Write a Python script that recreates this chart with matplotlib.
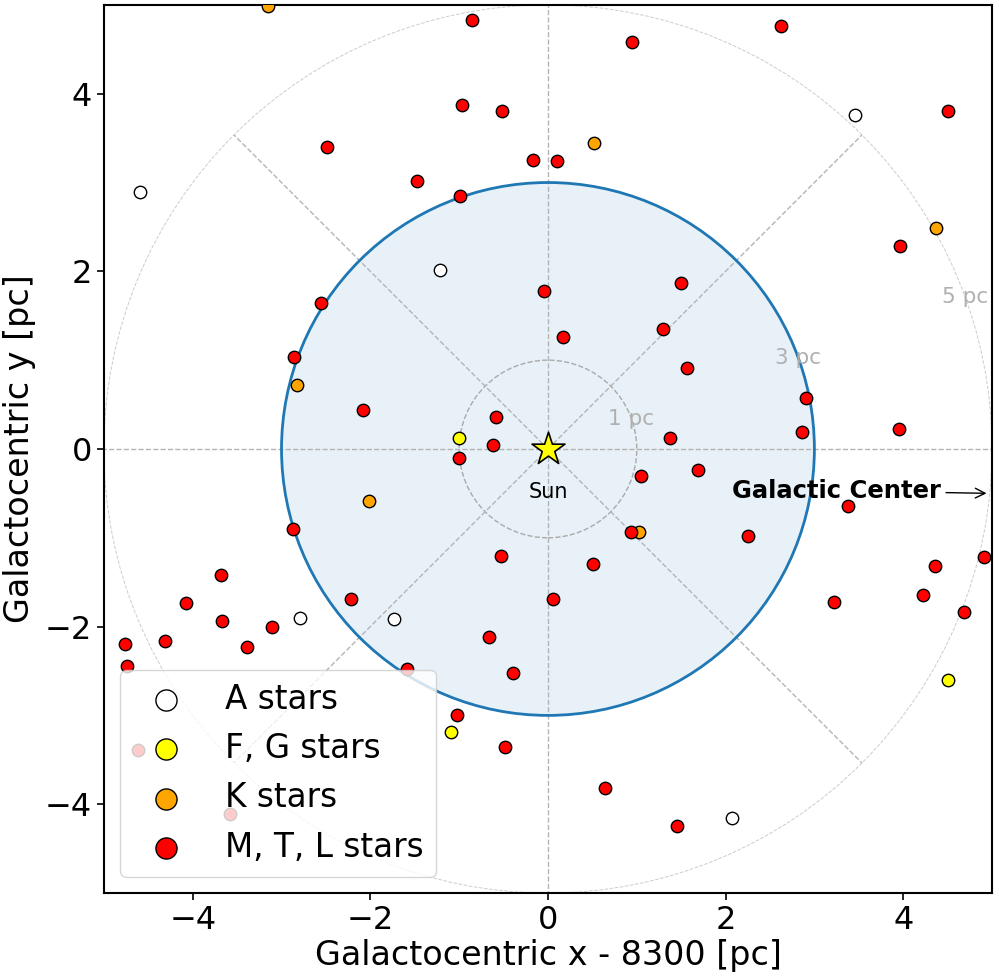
import numpy as np
import matplotlib
matplotlib.use("Agg")
import matplotlib.pyplot as plt
from matplotlib.patches import Circle

# Star positions relative to the Sun (pc), grouped by spectral class
a_x = [-4.59, -1.21, 3.46, -2.79, -1.73, 2.07]
a_y = [2.89, 2.01, 3.76, -1.90, -1.91, -4.15]

fg_x = [-1.00, -1.09, 4.50]
fg_y = [0.12, -3.19, -2.60]

k_x = [-3.15, 0.52, 4.37, -2.83, -2.02, 1.02]
k_y = [4.99, 3.45, 2.49, 0.72, -0.59, -0.94]

mtl_x = [-0.86, -0.97, -0.52, -2.49, -0.17, -1.47, -0.99, -0.05, -2.56, -2.86,
         -2.08, -0.59, -0.62, 0.95, 2.62, 4.51, 0.10, 3.96, 1.50, 0.17,
         1.30, 1.57, 2.91, 2.86, 3.95, 1.37, -1.00, -2.87, -0.53, -3.68,
         -4.07, -2.22, -0.66, -0.39, 0.06, -3.67, -3.11, -4.31, -3.39, -4.76,
         -4.74, -1.59, -1.02, -0.48, -4.62, -3.58, 1.05, 1.69, 3.38, 0.94,
         2.25, 0.51, 4.36, 4.91, 4.22, 3.22, 4.68, 0.64, 1.45]
mtl_y = [4.83, 3.87, 3.80, 3.40, 3.25, 3.02, 2.85, 1.78, 1.64, 1.04,
         0.44, 0.36, 0.05, 4.58, 4.76, 3.80, 3.24, 2.28, 1.87, 1.26,
         1.35, 0.91, 0.57, 0.19, 0.23, 0.12, -0.10, -0.90, -1.20, -1.42,
         -1.74, -1.69, -2.12, -2.52, -1.69, -1.94, -2.00, -2.16, -2.23, -2.20,
         -2.44, -2.48, -2.99, -3.36, -3.39, -4.11, -0.30, -0.24, -0.64, -0.94,
         -0.98, -1.30, -1.32, -1.22, -1.65, -1.72, -1.84, -3.82, -4.25]

ring_radii = [1, 3, 5]
ring_labels = ["1 pc", "3 pc", "5 pc"]

fig = plt.figure(figsize=(9.99, 9.76), dpi=100)
ax = fig.add_axes([0.104, 0.085, 0.889, 0.910])

# Shaded 3 pc disc
ax.add_patch(Circle((0, 0), 3, facecolor="C0", alpha=0.1, edgecolor="none", zorder=1))
ax.add_patch(Circle((0, 0), 3, facecolor="none", edgecolor="C0", lw=2, zorder=2))

# Distance rings
ax.add_patch(Circle((0, 0), 1, facecolor="none", edgecolor="#aaaaaa", lw=1, ls="--", zorder=1.5))
ax.add_patch(Circle((0, 0), 5, facecolor="none", edgecolor="#cccccc", lw=0.7, ls="--", zorder=1.5))

# Radial spokes every 45 degrees
for ang in np.deg2rad(np.arange(0, 360, 45)):
    ax.plot([0, 5 * np.cos(ang)], [0, 5 * np.sin(ang)], ls="--", color="#b4b4b4",
            lw=1, zorder=1.5)

# Ring labels along a 20 degree line
lab_ang = np.deg2rad(20)
for r, t in zip(ring_radii, ring_labels):
    ax.text(r * np.cos(lab_ang), r * np.sin(lab_ang), t, color="#b0b0b0",
            fontsize=15.5, ha="center", va="center", zorder=3)

kw = dict(s=80, edgecolors="black", linewidths=1, zorder=4)
ax.scatter(a_x, a_y, c="white", label="A stars", **kw)
ax.scatter(fg_x, fg_y, c="yellow", label="F, G stars", **kw)
ax.scatter(k_x, k_y, c="orange", label="K stars", **kw)
ax.scatter(mtl_x, mtl_y, c="red", label="M, T, L stars", **kw)

# Sun
ax.scatter([0], [0], marker="*", s=620, c="yellow", edgecolors="black",
           linewidths=1.2, zorder=5)
ax.text(0, -0.48, "Sun", fontsize=15, ha="center", va="center", zorder=5)

ax.annotate("Galactic Center", xy=(4.97, -0.5), xytext=(4.42, -0.47),
            fontsize=17.5, fontweight="bold", ha="right", va="center",
            arrowprops=dict(arrowstyle="->", color="black", lw=1), zorder=5)

ax.set_xlim(-5, 5)
ax.set_ylim(-5, 5)
ax.set_aspect("equal")
ax.set_xlabel("Galactocentric x - 8300 [pc]", fontsize=24, labelpad=2)
ax.set_ylabel("Galactocentric y [pc]", fontsize=24, labelpad=6)
ax.tick_params(labelsize=23, width=1.2, length=5)
for sp in ax.spines.values():
    sp.set_linewidth(1.5)

ax.legend(loc="lower left", fontsize=23.5, markerscale=1.7)

fig.savefig("out.png", dpi=100)
